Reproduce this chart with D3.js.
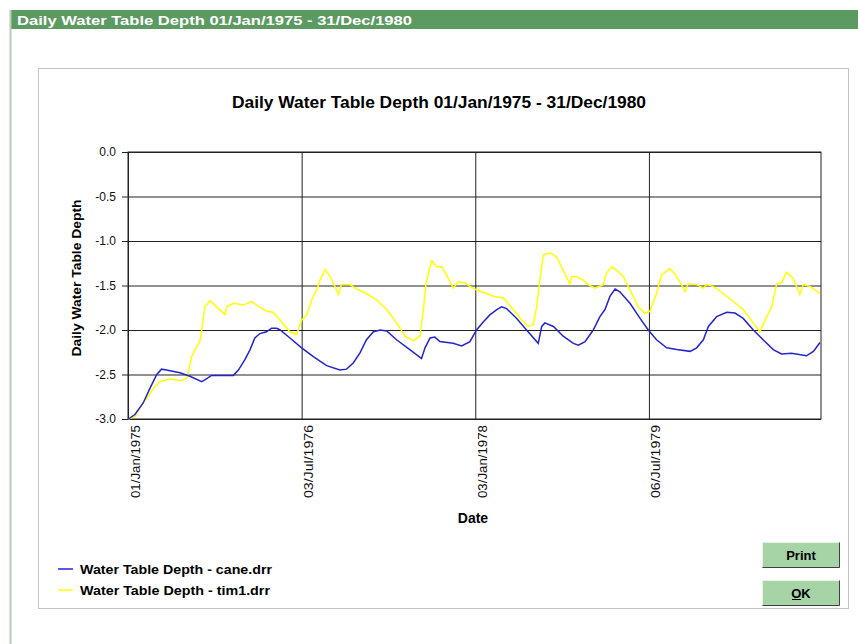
<!DOCTYPE html>
<html lang="en">
<head>
<meta charset="utf-8">
<title>Daily Water Table Depth</title>
<script src="https://cdn.jsdelivr.net/npm/d3@7"></script>
<style>
  body { margin: 0; background: #fff; }
  text { font-family: "Liberation Sans", Arial, sans-serif; }
</style>
</head>
<body>
<svg id="chart" width="858" height="644"></svg>
<script>
// days since 01/Jan/1975
var caneDays = [1,22,48,70,91,106,122,164,196,233,243,264,333,349,370,386,401,417,438,454,470,481,512,549,586,628,670,691,712,733,754,776,797,818,849,891,928,939,955,970,986,1028,1055,1081,
  1102,1123,1144,1166,1181,1197,1229,1260,1297,1308,1318,1345,1376,1408,1424,1445,1471,1492,1508,1524,1540,1555,1587,1619,1645,1671,1703,1735,1777,1798,1819,1835,1861,1893,1919,1945,1977,2008,2040,2066,2098,2145,2167,2188];
var caneDepth = [-3.00,-2.95,-2.82,-2.65,-2.50,-2.44,-2.45,-2.48,-2.52,-2.58,-2.56,-2.51,-2.51,-2.45,-2.33,-2.22,-2.09,-2.04,-2.02,-1.98,-1.98,-2.00,-2.09,-2.20,-2.30,-2.40,-2.45,-2.44,-2.37,-2.26,-2.11,-2.02,-2.00,-2.01,-2.11,-2.22,-2.32,-2.20,-2.09,-2.08,-2.13,-2.15,-2.18,-2.13,
  -2.00,-1.91,-1.83,-1.77,-1.74,-1.76,-1.87,-2.00,-2.15,-1.96,-1.92,-1.96,-2.07,-2.15,-2.17,-2.13,-2.00,-1.85,-1.77,-1.62,-1.54,-1.57,-1.70,-1.87,-2.00,-2.11,-2.20,-2.22,-2.24,-2.20,-2.11,-1.96,-1.85,-1.80,-1.81,-1.87,-2.00,-2.11,-2.22,-2.27,-2.26,-2.29,-2.24,-2.14];

var timDays = [1,22,48,80,101,133,170,185,191,201,217,228,236,243,259,286,307,312,333,365,391,407,438,459,481,512,533,549,565,581,596,607,623,639,654,665,675,702,723,754,786,818,849,876,902,923,934,942,960,976,992,1007,1028,1044,1065,1081,
  1102,1134,1155,1187,1218,1245,1266,1281,1292,1302,1313,1324,1339,1355,1376,1397,1403,1418,1439,1455,1476,1503,1513,1529,1545,1566,1587,1613,1634,1650,1671,1687,1713,1729,1750,1761,1771,1798,1819,1829,1850,1882,1914,1945,1977,1998,2014,2035,2051,2066,2082,2103,2124,2135,2156,2172,2188];
var timDepth = [-3.00,-2.97,-2.82,-2.66,-2.58,-2.55,-2.57,-2.54,-2.47,-2.30,-2.19,-2.12,-1.92,-1.74,-1.67,-1.76,-1.83,-1.74,-1.70,-1.72,-1.68,-1.72,-1.79,-1.80,-1.89,-2.02,-2.05,-1.89,-1.83,-1.66,-1.55,-1.44,-1.32,-1.40,-1.51,-1.60,-1.49,-1.49,-1.54,-1.59,-1.66,-1.77,-1.92,-2.07,-2.12,-2.07,-1.77,-1.48,-1.22,-1.29,-1.29,-1.38,-1.53,-1.46,-1.47,-1.51,
  -1.55,-1.59,-1.62,-1.64,-1.77,-1.89,-1.96,-1.94,-1.74,-1.44,-1.16,-1.14,-1.14,-1.18,-1.33,-1.48,-1.40,-1.40,-1.44,-1.49,-1.53,-1.49,-1.36,-1.29,-1.33,-1.40,-1.55,-1.74,-1.81,-1.79,-1.59,-1.38,-1.31,-1.37,-1.49,-1.57,-1.48,-1.49,-1.53,-1.49,-1.51,-1.59,-1.68,-1.77,-1.92,-2.02,-1.89,-1.74,-1.48,-1.47,-1.35,-1.42,-1.60,-1.49,-1.51,-1.55,-1.59];

var tickDates = ["1975-01-01", "1976-07-03", "1978-01-03", "1979-07-06"];
var tickLabels = ["01/Jan/1975", "03/Jul/1976", "03/Jan/1978", "06/Jul/1979"];
var yTicks = [0, -0.5, -1, -1.5, -2, -2.5, -3];
var seriesNames = ["Water Table Depth - cane.drr", "Water Table Depth - tim1.drr"];
var seriesColors = ["#2424d0", "#ffff00"];

var titleText = "Daily Water Table Depth 01/Jan/1975 - 31/Dec/1980";

var svg = d3.select("#chart");
var start = new Date(Date.UTC(1975, 0, 1)),
    end = new Date(Date.UTC(1980, 11, 31));
var pL = 128, pR = 821, pT = 152, pB = 419;

var x = d3.scaleUtc().domain([start, end]).range([pL, pR]);
var y = d3.scaleLinear().domain([-3, 0]).range([pB, pT]);

// window frame
svg.append("rect").attr("x", 11).attr("y", 10).attr("width", 847).attr("height", 19).attr("fill", "#5b9a60");
svg.append("line").attr("x1", 10.5).attr("x2", 10.5).attr("y1", 10).attr("y2", 644)
  .attr("stroke", "#b8ccb8").attr("stroke-width", 2);
svg.append("text").attr("x", 17).attr("y", 25).attr("fill", "#fff")
  .attr("font-weight", "bold").attr("font-size", 13.5)
  .attr("textLength", 395).attr("lengthAdjust", "spacingAndGlyphs")
  .text(titleText);

svg.append("rect").attr("x", 38.5).attr("y", 68.5).attr("width", 810).attr("height", 540)
  .attr("fill", "none").attr("stroke", "#888").attr("stroke-dasharray", "1,1");

svg.append("text").attr("x", 439).attr("y", 108).attr("text-anchor", "middle")
  .attr("font-weight", "bold").attr("font-size", 16)
  .attr("textLength", 414).attr("lengthAdjust", "spacingAndGlyphs")
  .text(titleText);

// horizontal grid + y axis
var yAxis = svg.append("g").attr("transform", "translate(" + pL + ",0)")
  .call(d3.axisLeft(y).tickValues(yTicks)
    .tickSizeInner(-(pR - pL)).tickSizeOuter(0).tickPadding(12));
yAxis.select(".domain").remove();
yAxis.selectAll(".tick line").attr("x1", -6).attr("stroke", "#222");
yAxis.selectAll(".tick text").attr("font-size", 12).attr("fill", "#111")
  .attr("x", -12)
  .text(function(d) { return d === 0 ? "0.0" : "-" + d3.format(".1f")(-d); });

// vertical grid + x axis
var xAxis = svg.append("g").attr("transform", "translate(0," + pB + ")")
  .call(d3.axisBottom(x).tickValues(tickDates.map(function(s) { return new Date(s + "T00:00:00Z"); }))
    .tickFormat(function(d, i) { return tickLabels[i]; })
    .tickSizeInner(-(pB - pT)).tickSizeOuter(0));
xAxis.select(".domain").remove();
xAxis.selectAll(".tick line").attr("stroke", "#222");
xAxis.selectAll(".tick text")
  .attr("font-size", 12).attr("fill", "#111")
  .attr("text-anchor", "end")
  .attr("textLength", 73).attr("lengthAdjust", "spacingAndGlyphs")
  .attr("transform", "translate(11,6) rotate(-90)")
  .attr("x", 0).attr("y", 0).attr("dy", 0);

svg.append("rect").attr("x", pL).attr("y", pT).attr("width", pR - pL).attr("height", pB - pT)
  .attr("fill", "none").attr("stroke", "#222");

var line = d3.line()
  .x(function(d) { return x(d3.utcDay.offset(start, d[0])); })
  .y(function(d) { return y(d[1]); });

// yellow first, blue on top
var series = [
  {pts: d3.zip(timDays, timDepth), color: seriesColors[1]},
  {pts: d3.zip(caneDays, caneDepth), color: seriesColors[0]}
];
svg.selectAll("path.series").data(series).enter().append("path")
  .attr("class", "series")
  .attr("d", function(d) { return line(d.pts); })
  .attr("fill", "none")
  .attr("stroke", function(d) { return d.color; })
  .attr("stroke-width", 1.5);

// axis titles
svg.append("text").attr("transform", "translate(81,278) rotate(-90)")
  .attr("text-anchor", "middle").attr("font-weight", "bold").attr("font-size", 13.5)
  .attr("textLength", 157).attr("lengthAdjust", "spacingAndGlyphs")
  .text("Daily Water Table Depth");
svg.append("text").attr("x", 473).attr("y", 523).attr("text-anchor", "middle")
  .attr("font-weight", "bold").attr("font-size", 14).text("Date");

// legend
var legend = svg.selectAll("g.legend").data(seriesNames).enter().append("g")
  .attr("transform", function(d, i) { return "translate(58," + (569 + i * 21) + ")"; });
legend.append("line").attr("x1", 0).attr("x2", 15)
  .attr("stroke", function(d, i) { return seriesColors[i]; }).attr("stroke-width", 1.5);
legend.append("text").attr("x", 22).attr("y", 5).attr("font-weight", "bold").attr("font-size", 13)
  .attr("textLength", function(d, i) { return i === 0 ? 192 : 190; })
  .attr("lengthAdjust", "spacingAndGlyphs")
  .text(function(d) { return d; });

// buttons
var buttons = [{label: "Print", y: 542}, {label: "OK", y: 580}];
var btn = svg.selectAll("g.btn").data(buttons).enter().append("g")
  .attr("transform", function(d) { return "translate(762," + d.y + ")"; });
btn.append("rect").attr("width", 78).attr("height", 26).attr("fill", "#a6d4a6");
btn.append("path").attr("d", "M0.5,25.5V0.5H77.5").attr("fill", "none").attr("stroke", "#e8f4e8");
btn.append("path").attr("d", "M0.5,25.5H77.5V0.5").attr("fill", "none").attr("stroke", "#404040");
btn.append("text").attr("x", 39).attr("y", 18).attr("text-anchor", "middle")
  .attr("font-weight", "bold").attr("font-size", 13)
  .text(function(d) { return d.label; });
// underline the O of OK
svg.append("line").attr("x1", 792).attr("x2", 801).attr("y1", 599.5).attr("y2", 599.5).attr("stroke", "#000");
</script>
</body>
</html>
